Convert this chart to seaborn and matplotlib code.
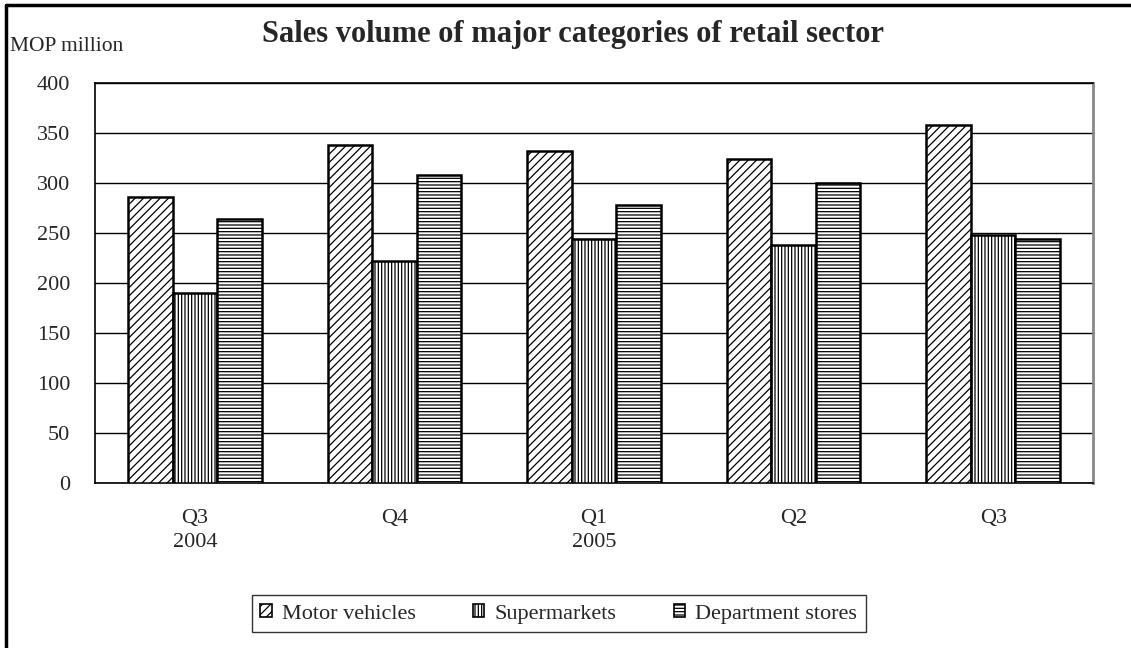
import pandas as pd
import seaborn as sns
import matplotlib.pyplot as plt
from matplotlib.lines import Line2D
from matplotlib.patches import Patch

# data (MOP million)
quarters = ["Q3\n2004", "Q4", "Q1\n2005", "Q2", "Q3"]
series = ["Motor vehicles", "Supermarkets", "Department stores"]
motor_vehicles = [286, 338, 332, 324, 358]
supermarkets = [190, 222, 244, 238, 248]
department_stores = [264, 308, 278, 300, 244]
y_ticks = [0, 50, 100, 150, 200, 250, 300, 350, 400]

hatches = {"Motor vehicles": "////", "Supermarkets": "|||||", "Department stores": "-----"}

df = pd.DataFrame({
    "quarter": quarters * 3,
    "series": [series[0]] * 5 + [series[1]] * 5 + [series[2]] * 5,
    "value": motor_vehicles + supermarkets + department_stores,
})

sns.set_theme(style="white")
plt.rcParams["font.family"] = ["Liberation Serif", "DejaVu Serif"]
plt.rcParams["hatch.linewidth"] = 0.9

fig = plt.figure(figsize=(11.31, 6.48), dpi=100)
ax = fig.add_axes([0.084, 0.2546, 0.8824, 0.6173])

sns.barplot(data=df, x="quarter", y="value", hue="series", order=quarters,
            hue_order=series, palette=["white"] * 3, width=0.67, gap=0,
            edgecolor="black", linewidth=1.8, legend=False, ax=ax, zorder=3)

# apply hatches series by series
for cont, name in zip(ax.containers, series):
    for bar in cont:
        bar.set_hatch(hatches[name])
        bar.set_edgecolor("black")

ax.set_ylim(0, 400)
ax.set_yticks(y_ticks)
ax.set_xlim(-0.5, 4.5)
ax.yaxis.grid(True, color="black", linewidth=1.0)
ax.set_axisbelow(True)
ax.set_xlabel("")
ax.set_ylabel("")
ax.tick_params(axis="y", left=False, labelsize=16, pad=12)
ax.tick_params(axis="x", bottom=False, labelsize=16, pad=13)
for lbl in ax.get_xticklabels():
    lbl.set_linespacing(1.35)
for side in ["left", "bottom", "top"]:
    ax.spines[side].set_color("black")
    ax.spines[side].set_linewidth(1.2)
ax.spines["right"].set_color("#888888")
ax.spines["right"].set_linewidth(2)

fig.text(0.507, 0.947, "Sales volume of major categories of retail sector",
         ha="center", va="center", fontsize=22, fontweight="bold")
fig.text(0.009, 0.929, "MOP million", ha="left", va="center", fontsize=15.5)

# legend
handles = [Patch(facecolor="white", edgecolor="black", hatch=hatches[s], linewidth=1.2)
           for s in series]
leg = fig.legend(handles, series, loc="center", bbox_to_anchor=(0.494, 0.0525), ncol=3,
                 frameon=True, fancybox=False, fontsize=16, handlelength=0.5,
                 handleheight=0.5, handletextpad=0.45, columnspacing=2.6,
                 borderpad=0.4, borderaxespad=0, edgecolor="black")
leg.get_frame().set_linewidth(1.0)

# outer border (only left and top visible in the reference)
fig.add_artist(Line2D([0.005, 0.005], [0, 0.993], color="black", linewidth=2.5,
                      transform=fig.transFigure))
fig.add_artist(Line2D([0.005, 1.0], [0.993, 0.993], color="black", linewidth=2.5,
                      transform=fig.transFigure))

fig.savefig("out.png", dpi=100)
